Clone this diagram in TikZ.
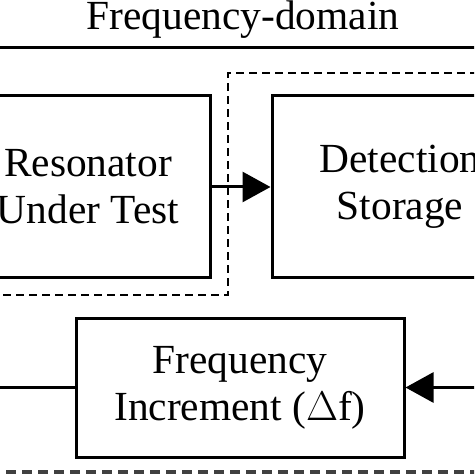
\documentclass[tikz,border=0pt]{standalone}
\usepackage{fontspec}
\setmainfont{Liberation Serif}
\usetikzlibrary{arrows.meta}

\begin{document}
\begin{tikzpicture}[x=0.5pt,y=-0.5pt]
\tikzstyle{blk}=[draw,rectangle,line width=1.5pt,align=center,font=\fontsize{20.7}{23.5}\selectfont];
\tikzstyle{dir}=[line width=1.5pt,-{Triangle[length=14pt,width=15pt]}];
\tikzstyle{grp}=[line width=1pt,dash pattern=on 4pt off 2.5pt];
\useasboundingbox (0,0) rectangle (474,474);
\clip (0,0) rectangle (474,474);
\node [font=\fontsize{20.7}{23.5}\selectfont] (fd) at (243,20) {Frequency-domain};
\coordinate (t1) at (-10,48);
\coordinate (t2) at (484,48);
\draw [line width=1.5pt] (t1) -- (t2);
\node [blk,minimum width=122pt,minimum height=91pt] (b1) at (88,187) {Resonator\\Under Test};
\node [blk,minimum width=128pt,minimum height=91pt] (b2) at (400,187) {Detection\\Storage};
\draw [dir] (b1) -- (b2);
\coordinate (g1) at (-10,295);
\coordinate (g2) at (228,295);
\coordinate (g3) at (228,73);
\coordinate (g4) at (484,73);
\draw [grp] (g1) -- (g2) -- (g3) -- (g4);
\node [blk,minimum width=164pt,minimum height=69.5pt] (b3) at (240,387.5) {Frequency\\Increment ($\Delta$f)};
\coordinate (r1) at (484,387.5);
\coordinate (l1) at (-10,387.5);
\draw [dir] (r1) -- (b3);
\draw [line width=1.5pt] (b3) -- (l1);
\coordinate (d1) at (-10,472);
\coordinate (d2) at (484,472);
\draw [line width=2pt,black!75,dash pattern=on 5pt off 3pt] (d1) -- (d2);
\end{tikzpicture}
\end{document}
